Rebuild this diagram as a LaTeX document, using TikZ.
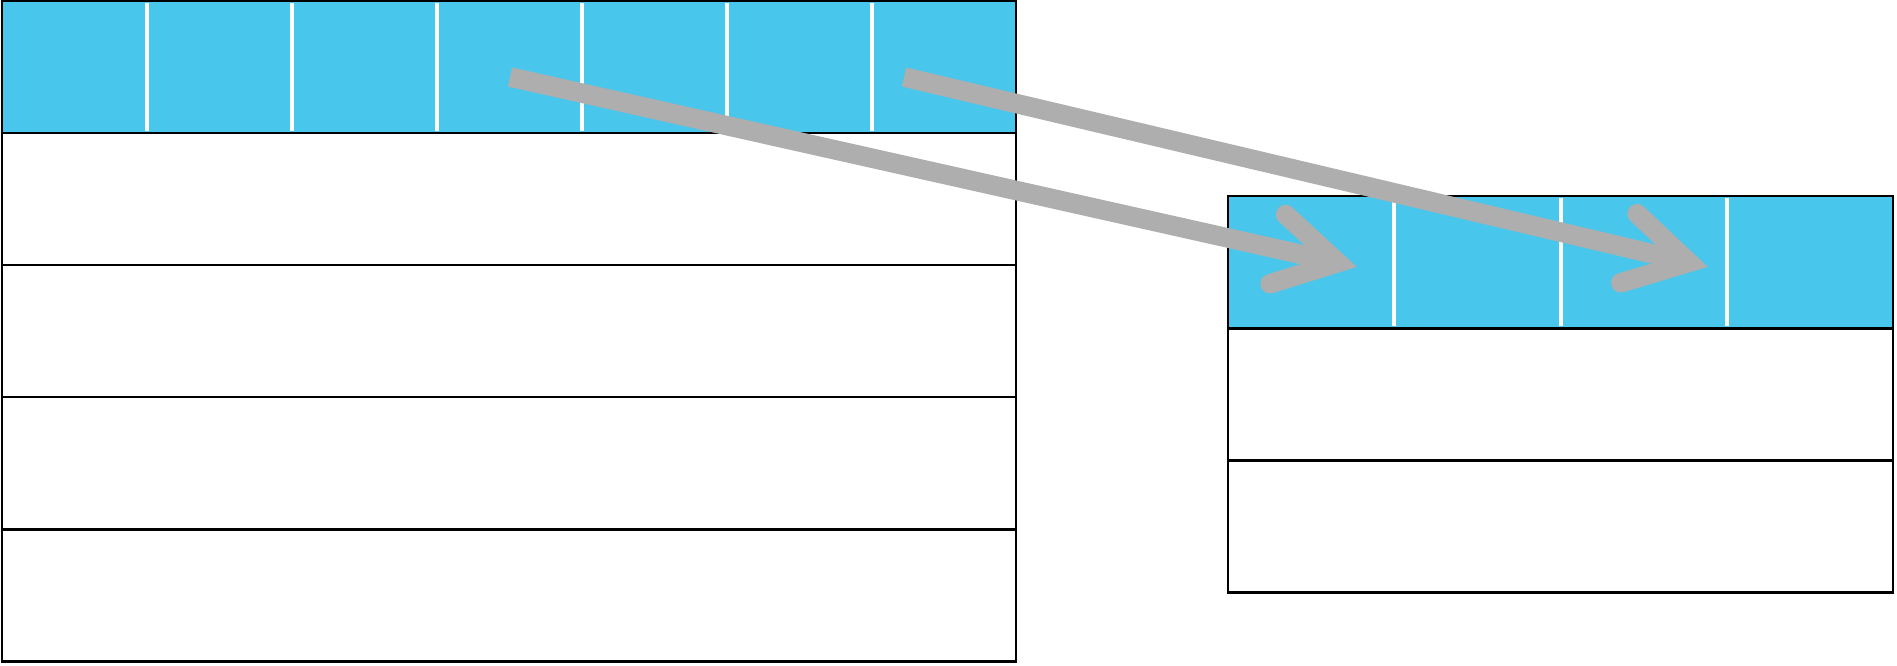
\documentclass[tikz,border=0pt]{standalone}
\usetikzlibrary{calc}
\definecolor{cellblue}{HTML}{49C6EB}
\definecolor{arrowgray}{HTML}{AEAEAE}
\begin{document}
\begin{tikzpicture}[x=1pt,y=-1pt,
  rowbox/.style={draw=black,line width=2.4pt,rectangle,inner sep=0pt,outer sep=0pt,minimum height=132pt},
  hdrbox/.style={rowbox,fill=cellblue},
  sepline/.style={draw=white,line width=4pt},
  shaft/.style={draw=arrowgray,line width=19.5pt,line cap=butt},
  headline/.style={draw=arrowgray,line width=19.5pt,line cap=round,line join=miter}]
\useasboundingbox (0,0) rectangle (1897,665);
% left table
\node[hdrbox,minimum width=1014pt] (L0) at (509,67) {};
\node[rowbox,minimum width=1014pt] (L1) at (509,199) {};
\node[rowbox,minimum width=1014pt] (L2) at (509,331) {};
\node[rowbox,minimum width=1014pt] (L3) at (509,463) {};
\node[rowbox,minimum width=1014pt] (L4) at (509,595.5) {};
\foreach \i in {1,...,6}{
  \draw[sepline] ($(L0.north west)+(145*\i,2)$) -- ($(L0.south west)+(145*\i,-2)$);
}
% right table
\node[hdrbox,minimum width=665pt] (R0) at (1560.5,262) {};
\node[rowbox,minimum width=665pt] (R1) at (1560.5,394.5) {};
\node[rowbox,minimum width=665pt] (R2) at (1560.5,526.5) {};
\foreach \i in {1,2,3}{
  \draw[sepline] ($(R0.north west)+(166.25*\i,2)$) -- ($(R0.south west)+(166.25*\i,-2)$);
}
% arrows
\coordinate (s1) at (510,77);
\coordinate (v1) at (1337.8,262.6);
\coordinate (s2) at (904,77);
\coordinate (v2) at (1688.8,262.4);
\draw[shaft] (s1) -- (v1);
\draw[headline] ($(v1)!71pt!30:(s1)$) -- (v1) -- ($(v1)!71pt!-30:(s1)$);
\draw[shaft] (s2) -- (v2);
\draw[headline] ($(v2)!71pt!30:(s2)$) -- (v2) -- ($(v2)!71pt!-30:(s2)$);
\end{tikzpicture}
\end{document}
